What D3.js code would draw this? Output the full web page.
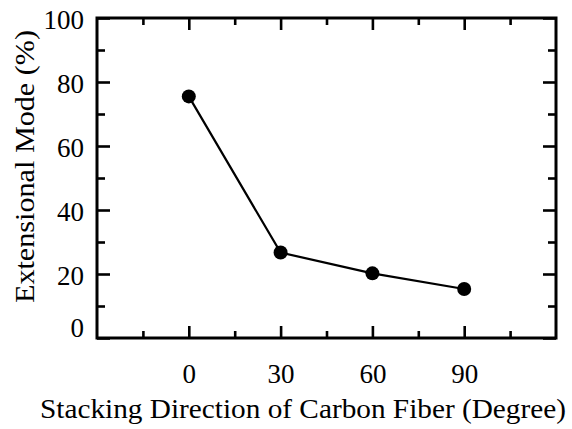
<!DOCTYPE html>
<html><head><meta charset="utf-8">
<script src="https://cdn.jsdelivr.net/npm/d3@7"></script>
<style>body{margin:0;background:#fff}svg{display:block}</style>
</head><body>
<svg id="c" width="572" height="429"></svg>
<script>
const angles = [0, 30, 60, 90];
const extensional = [75.5, 26.7, 20.2, 15.3];
const xMajorTicks = [0, 30, 60, 90];
const xMinorTicks = [-15, 15, 45, 75, 105];
const yMajorTicks = [0, 20, 40, 60, 80, 100];
const yMinorTicks = [10, 30, 50, 70, 90];
const xTitle = "Stacking Direction of Carbon Fiber (Degree)";
const yTitle = "Extensional Mode (%)";

const L = 97, R = 556, T = 18, B = 338;
const svg = d3.select("#c");
const x = d3.scaleLinear().domain([-30, 120]).range([L, R]);
const y = d3.scaleLinear().domain([0, 100]).range([B, T]);
const font = "'Liberation Serif', 'Times New Roman', serif";

function styleAxis(g, sw) {
  g.select(".domain").remove();
  g.selectAll(".tick line").attr("stroke", "#000").attr("stroke-width", sw);
  g.selectAll(".tick text").attr("font-family", font).attr("font-size", 27).attr("fill", "#000");
}
// bottom
svg.append("g").attr("transform", `translate(0,${B})`)
  .call(d3.axisBottom(x).tickValues(xMajorTicks).tickSize(-12).tickPadding(26).tickFormat(d3.format("d")))
  .call(g => styleAxis(g, 2.6));
svg.append("g").attr("transform", `translate(0,${B})`)
  .call(d3.axisBottom(x).tickValues(xMinorTicks).tickSize(-7).tickFormat(""))
  .call(g => styleAxis(g, 2.6));
// top
svg.append("g").attr("transform", `translate(0,${T})`)
  .call(d3.axisTop(x).tickValues(xMajorTicks).tickSize(-12).tickFormat(""))
  .call(g => styleAxis(g, 2.6));
svg.append("g").attr("transform", `translate(0,${T})`)
  .call(d3.axisTop(x).tickValues(xMinorTicks).tickSize(-7).tickFormat(""))
  .call(g => styleAxis(g, 2.6));
// left
const gl = svg.append("g").attr("transform", `translate(${L},0)`)
  .call(d3.axisLeft(y).tickValues(yMajorTicks).tickSize(-13).tickPadding(13).tickFormat(d3.format("d")))
  .call(g => styleAxis(g, 2.6));
gl.selectAll(".tick text").attr("dy", d => d === 0 ? "-0.05em" : "0.38em");
svg.append("g").attr("transform", `translate(${L},0)`)
  .call(d3.axisLeft(y).tickValues(yMinorTicks).tickSize(-8).tickFormat(""))
  .call(g => styleAxis(g, 2.6));
// right
svg.append("g").attr("transform", `translate(${R},0)`)
  .call(d3.axisRight(y).tickValues(yMajorTicks).tickSize(-13).tickFormat(""))
  .call(g => styleAxis(g, 2.6));
svg.append("g").attr("transform", `translate(${R},0)`)
  .call(d3.axisRight(y).tickValues(yMinorTicks).tickSize(-8).tickFormat(""))
  .call(g => styleAxis(g, 2.6));

// frame
svg.append("rect").attr("x", L).attr("y", T).attr("width", R - L).attr("height", B - T)
  .attr("fill", "none").attr("stroke", "#000").attr("stroke-width", 3);

// line
const pts = angles.map((a, i) => [a, extensional[i]]);
svg.append("path").datum(pts)
  .attr("d", d3.line().x(d => x(d[0])).y(d => y(d[1])))
  .attr("fill", "none").attr("stroke", "#000").attr("stroke-width", 2.2);
svg.selectAll("circle.pt").data(pts).enter().append("circle")
  .attr("class", "pt").attr("cx", d => x(d[0])).attr("cy", d => y(d[1]))
  .attr("r", 7).attr("fill", "#000");

// titles
svg.append("text").attr("x", 40).attr("y", 418).attr("font-family", font).attr("font-size", 28)
  .attr("textLength", 526).attr("lengthAdjust", "spacingAndGlyphs")
  .attr("fill", "#000").text(xTitle);
svg.append("text").attr("transform", `translate(34,303) rotate(-90)`)
  .attr("font-family", font).attr("font-size", 28)
  .attr("textLength", 273).attr("lengthAdjust", "spacingAndGlyphs")
  .attr("fill", "#000").text(yTitle);
</script>
</body></html>
